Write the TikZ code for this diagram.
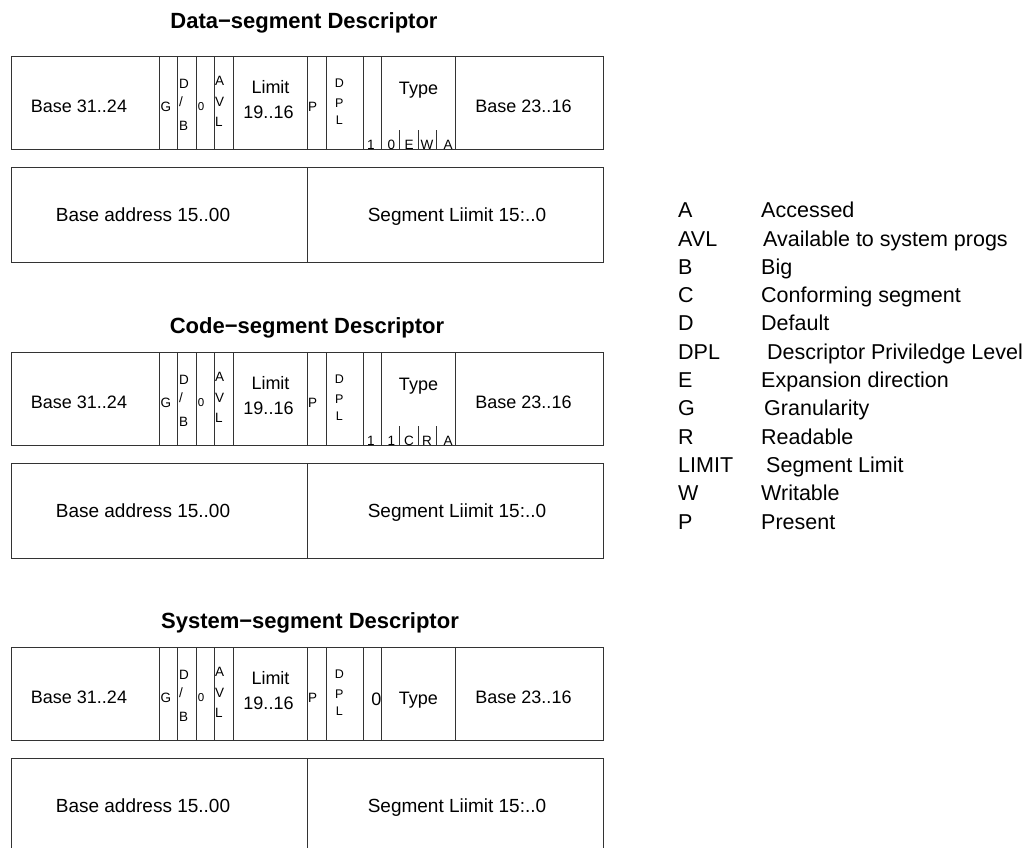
\documentclass[tikz,border=0pt]{standalone}
\usepackage{fontspec}
\setmainfont{Liberation Sans}
\tikzset{
  cell/.style={draw=black!80, line width=0.8pt},
  lab/.style={inner sep=0pt, anchor=base, font=\fontsize{18}{18}\selectfont},
  wide/.style={inner sep=0pt, anchor=base, font=\fontsize{19}{19}\selectfont},
  bit/.style={inner sep=0pt, anchor=base west, font=\fontsize{13.5}{13.5}\selectfont},
  sub/.style={inner sep=0pt, anchor=base, font=\fontsize{13.5}{13.5}\selectfont},
  ttl/.style={inner sep=0pt, anchor=base, font=\bfseries\fontsize{22}{22}\selectfont},
  leg/.style={inner sep=0pt, anchor=base west, font=\fontsize{21.5}{21.5}\selectfont},
}
% upper descriptor word: #1 = top edge, #2 = name prefix
\newcommand\fieldrow[2]{%
  \draw[cell] (11,#1) rectangle (603.7,#1+93);
  \foreach \x in {159,177.7,196.3,214.3,233.3,307.2,326.3,363,381.7,455.3}
    \draw[cell] (\x,#1) -- (\x,#1+93);
  \node[lab] (#2-bhi) at (79,#1+56.3) {Base 31..24};
  \node[bit] (#2-g) at (160.5,#1+55.7) {G};
  \node[bit] (#2-d) at (179,#1+32.3) {D};
  \node[bit] (#2-sl) at (179,#1+50.7) {/};
  \node[bit] (#2-b) at (179,#1+74) {B};
  \node[bit, font=\fontsize{11.5}{11.5}\selectfont] (#2-z) at (197.6,#1+54.5) {0};
  \node[bit] (#2-a) at (215,#1+29) {A};
  \node[bit] (#2-v) at (215,#1+50.7) {V};
  \node[bit] (#2-l) at (215,#1+70.7) {L};
  \node[lab] (#2-lim) at (270.5,#1+37.5) {Limit};
  \node[lab] (#2-limb) at (268.5,#1+62.3) {19..16};
  \node[bit] (#2-p) at (308,#1+55.7) {P};
  \node[sub, font=\fontsize{12.5}{12.5}\selectfont] (#2-dd) at (339.3,#1+31.3) {D};
  \node[sub, font=\fontsize{12.5}{12.5}\selectfont] (#2-dp) at (339.3,#1+51.3) {P};
  \node[sub, font=\fontsize{12.5}{12.5}\selectfont] (#2-dl) at (339.3,#1+68) {L};
  \node[lab] (#2-bmid) at (523.5,#1+56.3) {Base 23..16};
}
% type field split into four bits: #1 = top edge, #2 = prefix, #3..#6 = bit labels
\newcommand\typebits[6]{%
  \node[lab] (#2-type) at (418.5,#1+38) {Type};
  \foreach \x in {399.7,418.3,436.7}
    \draw[cell] (\x,#1+74) -- (\x,#1+93);
  \node[sub] (#2-s) at (370.8,#1+93) {1};
  \node[sub] (#2-t0) at (391.5,#1+93) {#3};
  \node[sub] (#2-t1) at (409,#1+93) {#4};
  \node[sub] (#2-t2) at (427,#1+93) {#5};
  \node[sub] (#2-t3) at (448,#1+93) {#6};
}
% lower descriptor word: #1 = top edge, #2 = prefix
\newcommand\addrrow[2]{%
  \draw[cell] (11,#1) rectangle (603.7,#1+95);
  \draw[cell] (307.2,#1) -- (307.2,#1+95);
  \node[wide] (#2-ba) at (143,#1+54) {Base address 15..00};
  \node[wide] (#2-sl) at (457,#1+54) {Segment Liimit 15:..0};
}
\begin{document}
\begin{tikzpicture}[x=1pt,y=-1pt]
  \useasboundingbox (0,0) rectangle (1031,847);
  \fill[white] (0,0) rectangle (1031,847);
  \clip (0,0) rectangle (1031,847);

  % data segment
  \node[ttl] (dtitle) at (304,28.3) {Data−segment Descriptor};
  \fieldrow{56}{d}
  \typebits{56}{d}{0}{E}{W}{A}
  \addrrow{167}{da}

  % code segment
  \node[ttl] (ctitle) at (307,333.3) {Code−segment Descriptor};
  \fieldrow{352}{c}
  \typebits{352}{c}{1}{C}{R}{A}
  \addrrow{463}{ca}

  % system segment
  \node[ttl] (stitle) at (310,628.3) {System−segment Descriptor};
  \fieldrow{647}{s}
  \node[lab] (s-zero) at (376.5,647+58) {0};
  \node[lab] (s-type) at (418.3,647+57) {Type};
  \addrrow{758}{sa}

  % abbreviations
  \foreach \k/\v/\o [count=\i from 0] in {
      A/Accessed/0,
      AVL/Available to system progs/2,
      B/Big/0,
      C/Conforming segment/0,
      D/Default/0,
      DPL/Descriptor Priviledge Level/6,
      E/Expansion direction/0,
      G/Granularity/3,
      R/Readable/0,
      LIMIT/Segment Limit/5,
      W/Writable/0,
      P/Present/0} {
    \node[leg] (key\i) at (678,217.7+28.3*\i) {\k};
    \node[leg] (val\i) at (761+\o,217.7+28.3*\i) {\v};
  }
\end{tikzpicture}
\end{document}
